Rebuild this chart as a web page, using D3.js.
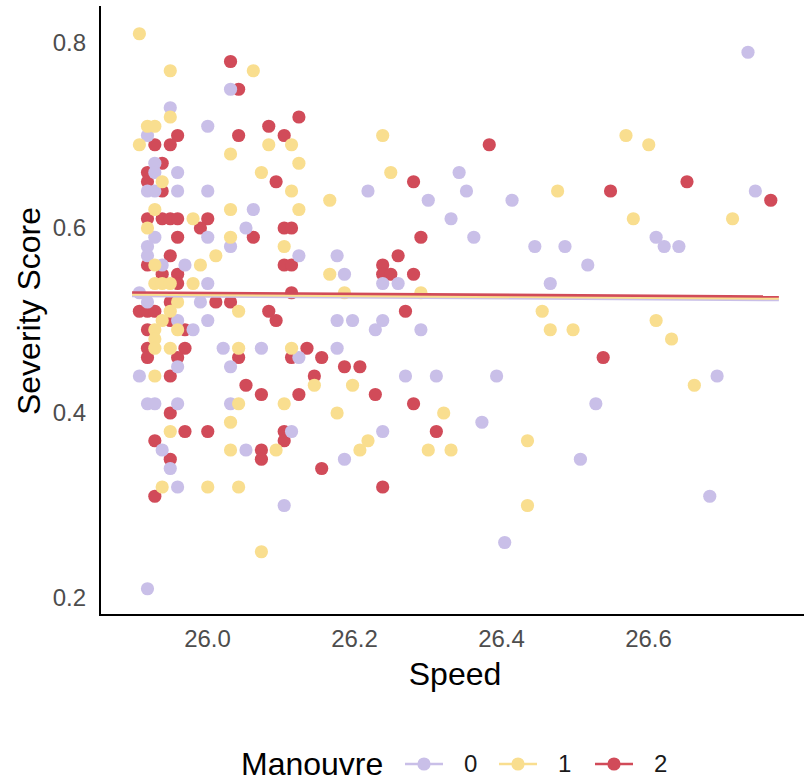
<!DOCTYPE html>
<html><head><meta charset="utf-8">
<script src="https://cdn.jsdelivr.net/npm/d3@7/dist/d3.min.js"></script>
<style>body{margin:0;background:#fff} svg{display:block} text{font-family:"Liberation Sans", Arial, sans-serif}</style>
</head><body><svg id="c" width="804" height="781"></svg>
<script>
// ---------- data ----------
const groups = ["0", "1", "2"];
const groupColors = ["#c9bfe8", "#f9de8f", "#d14b59"];

const speed0 = [25.950,26.001,25.919,25.929,25.929,25.960,25.919,25.929,25.960,26.001,25.929,26.001,25.919,25.919,25.939,25.970,26.001,25.908,25.919,25.991,25.960,26.001,25.981,25.960,25.908,25.919,25.929,25.960,25.939,25.950,25.960,25.919,
 26.032,26.063,26.053,26.032,26.125,26.022,26.074,26.125,26.032,26.032,26.115,26.053,26.105,
 26.343,26.353,26.219,26.301,26.332,26.363,26.177,26.187,26.239,26.260,26.177,26.198,26.239,26.229,26.291,26.177,26.270,26.312,26.394,26.374,26.239,26.187,26.405,
 26.736,26.746,26.415,26.611,26.446,26.487,26.622,26.642,26.518,26.467,26.694,26.529,26.508,26.684];
const score0 = [0.73,0.71,0.70,0.67,0.66,0.66,0.64,0.64,0.64,0.64,0.59,0.59,0.58,0.57,0.56,0.56,0.54,0.53,0.52,0.52,0.50,0.50,0.49,0.45,0.44,0.41,0.41,0.41,0.36,0.34,0.32,0.21,
 0.75,0.62,0.60,0.58,0.57,0.47,0.47,0.46,0.45,0.41,0.38,0.36,0.30,
 0.66,0.64,0.64,0.63,0.61,0.59,0.57,0.55,0.54,0.54,0.50,0.50,0.50,0.49,0.49,0.47,0.44,0.44,0.44,0.39,0.38,0.35,0.26,
 0.79,0.64,0.63,0.59,0.58,0.58,0.58,0.58,0.56,0.54,0.44,0.41,0.35,0.31];

const speed1 = [25.908,25.950,25.950,25.919,25.929,25.908,25.939,25.929,25.981,25.919,26.012,25.929,25.991,25.929,25.939,25.950,25.981,25.960,25.950,25.939,25.929,25.960,25.929,25.929,25.950,25.929,25.950,25.939,26.001,
 26.063,26.084,26.115,26.032,26.125,26.074,26.115,26.032,26.125,26.032,26.105,26.043,26.043,26.115,26.146,26.043,26.105,26.032,26.032,26.094,26.043,26.074,
 26.239,26.250,26.167,26.167,26.187,26.291,26.198,26.177,26.322,26.219,26.208,26.301,26.332,
 26.570,26.601,26.477,26.580,26.715,26.456,26.467,26.498,26.611,26.632,26.663,26.436,26.436];
const score1 = [0.81,0.77,0.72,0.71,0.71,0.69,0.65,0.62,0.61,0.60,0.57,0.56,0.56,0.54,0.54,0.54,0.54,0.52,0.51,0.50,0.49,0.49,0.48,0.47,0.47,0.44,0.38,0.32,0.32,
 0.77,0.69,0.69,0.68,0.67,0.66,0.64,0.62,0.62,0.59,0.58,0.51,0.47,0.47,0.43,0.41,0.41,0.39,0.36,0.36,0.32,0.25,
 0.70,0.66,0.63,0.55,0.53,0.53,0.43,0.40,0.40,0.37,0.36,0.36,0.36,
 0.70,0.69,0.64,0.61,0.61,0.51,0.49,0.49,0.50,0.48,0.43,0.37,0.30];

const speed2 = [25.960,25.929,25.950,25.939,25.919,25.919,25.939,25.919,25.939,25.950,25.960,26.001,25.991,25.960,25.950,25.919,25.939,25.960,25.960,25.950,26.012,25.908,25.919,25.929,25.950,25.919,25.970,25.919,25.970,25.960,25.919,25.950,25.950,25.970,26.001,25.929,25.950,25.929,
 26.032,26.043,26.125,26.084,26.043,26.105,26.094,26.105,26.115,26.063,26.105,26.115,26.115,26.032,26.084,26.094,26.136,26.043,26.115,26.156,26.146,26.053,26.074,26.125,26.105,26.105,26.074,26.074,26.156,
 26.384,26.281,26.291,26.260,26.239,26.239,26.250,26.281,26.270,26.187,26.208,26.229,26.281,26.312,26.239,
 26.653,26.549,26.767,26.539];
const score2 = [0.70,0.69,0.69,0.67,0.66,0.65,0.64,0.61,0.61,0.61,0.61,0.61,0.60,0.59,0.57,0.56,0.55,0.55,0.54,0.52,0.52,0.51,0.51,0.51,0.50,0.49,0.49,0.47,0.47,0.46,0.46,0.44,0.40,0.38,0.38,0.37,0.35,0.31,
 0.78,0.75,0.72,0.71,0.70,0.70,0.65,0.60,0.60,0.59,0.56,0.56,0.53,0.52,0.51,0.50,0.47,0.46,0.46,0.46,0.44,0.43,0.42,0.42,0.38,0.37,0.36,0.35,0.34,
 0.69,0.65,0.59,0.57,0.56,0.55,0.55,0.55,0.51,0.45,0.45,0.42,0.41,0.38,0.32,
 0.65,0.64,0.63,0.46];

// fitted regression lines: x range and y at each end
const fitSpeed = [25.898, 26.778];
const fit0 = [0.5265, 0.5222];
const fit1 = [0.5281, 0.5238];
const fit2 = [0.5303, 0.5259];

const xTicks = [26.0, 26.2, 26.4, 26.6];
const yTicks = [0.2, 0.4, 0.6, 0.8];

// ---------- chart ----------
const svg = d3.select("#c");
const left = 100, bottom = 615;
const x = d3.scaleLinear().domain([25.8544, 26.8122]).range([left, 804]);
const y = d3.scaleLinear().domain([0.18, 0.84]).range([616.5, 6]);

const series = [
  {g: 0, sx: speed0, sy: score0, fit: fit0},
  {g: 1, sx: speed1, sy: score1, fit: fit1},
  {g: 2, sx: speed2, sy: score2, fit: fit2}
];

// points (draw order: 2, 0, 1)
const pts = svg.append("g");
[2, 0, 1].forEach(i => {
  const s = series[i];
  pts.selectAll(null).data(s.sx.map((v, k) => [v, s.sy[k]])).enter().append("circle")
    .attr("cx", d => x(d[0])).attr("cy", d => y(d[1])).attr("r", 6.6)
    .attr("fill", groupColors[i]);
});

// regression lines
const lines = svg.append("g");
series.forEach(s => {
  lines.append("path")
    .datum(fitSpeed.map((v, k) => [v, s.fit[k]]))
    .attr("d", d3.line().x(d => x(d[0])).y(d => y(d[1])))
    .attr("fill", "none").attr("stroke", groupColors[s.g]).attr("stroke-width", 2.6);
});

// axes
const xAxis = svg.append("g").attr("transform", `translate(0,${bottom})`)
  .call(d3.axisBottom(x).tickValues(xTicks).tickFormat(d3.format(".1f")).tickSize(0).tickPadding(15));
xAxis.select(".domain").remove();
xAxis.selectAll("text").attr("font-size", 24).attr("fill", "#4d4d4d").attr("font-family", "Liberation Sans, Arial, sans-serif");

const yAxis = svg.append("g").attr("transform", `translate(${left},0)`)
  .call(d3.axisLeft(y).tickValues(yTicks).tickFormat(d3.format(".1f")).tickSize(0).tickPadding(14));
yAxis.select(".domain").remove();
yAxis.selectAll("text").attr("font-size", 24).attr("fill", "#4d4d4d").attr("font-family", "Liberation Sans, Arial, sans-serif");

svg.append("line").attr("x1", left).attr("x2", left).attr("y1", 6).attr("y2", bottom + 1)
  .attr("stroke", "#000").attr("stroke-width", 2);
svg.append("line").attr("x1", left - 1).attr("x2", 804).attr("y1", bottom).attr("y2", bottom)
  .attr("stroke", "#000").attr("stroke-width", 2);

// axis titles
svg.append("text").attr("x", 455).attr("y", 685).attr("text-anchor", "middle")
  .attr("font-size", 32).attr("fill", "#000").text("Speed");
svg.append("text").attr("transform", "translate(40,311) rotate(-90)").attr("text-anchor", "middle")
  .attr("font-size", 32).attr("fill", "#000").text("Severity Score");

// legend
const leg = svg.append("g");
leg.append("text").attr("x", 241).attr("y", 775).attr("font-size", 32).attr("fill", "#000").text("Manouvre");
const keyX = [424, 518, 614];
groups.forEach((g, i) => {
  const cx = keyX[i];
  leg.append("line").attr("x1", cx - 19).attr("x2", cx + 19).attr("y1", 764).attr("y2", 764)
    .attr("stroke", groupColors[i]).attr("stroke-width", 2.6);
  leg.append("circle").attr("cx", cx).attr("cy", 764).attr("r", 6.6).attr("fill", groupColors[i]);
  leg.append("text").attr("x", cx + 40).attr("y", 772).attr("font-size", 24).attr("fill", "#1a1a1a").text(g);
});
</script></body></html>
